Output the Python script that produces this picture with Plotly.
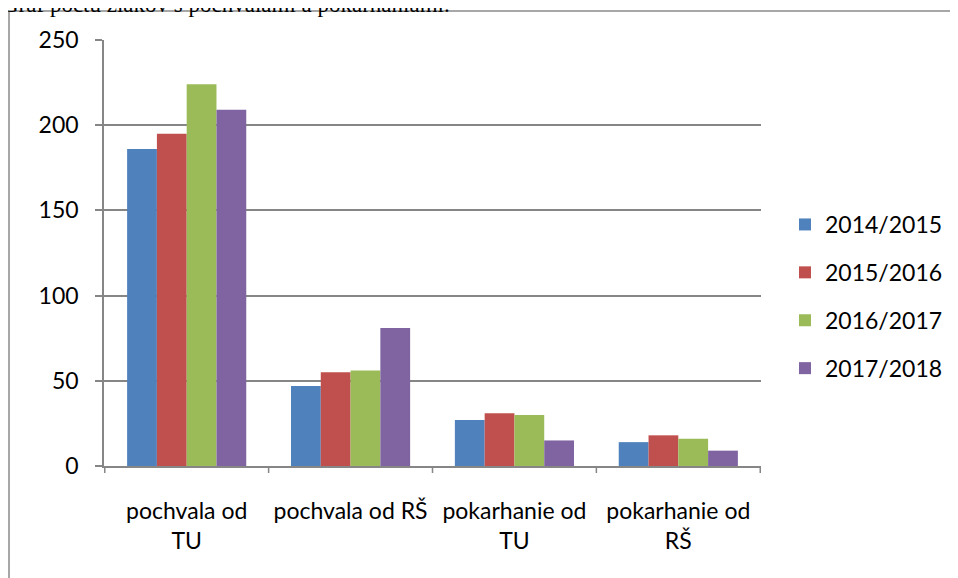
import plotly.graph_objects as go

categories = ["pochvala od<br>TU", "pochvala od RŠ", "pokarhanie od<br>TU", "pokarhanie od<br>RŠ"]
series_names = ["2014/2015", "2015/2016", "2016/2017", "2017/2018"]
v_2014 = [186, 47, 27, 14]
v_2015 = [195, 55, 31, 18]
v_2016 = [224, 56, 30, 16]
v_2017 = [209, 81, 15, 9]
colors = ["#4F81BD", "#C0504D", "#9BBB59", "#8064A2"]
y_ticks = [0, 50, 100, 150, 200, 250]
title_text = "Graf počtu žiakov s pochvalami a pokarhaniami."

values = [v_2014, v_2015, v_2016, v_2017]
FONT = "Lato, Carlito, Calibri, sans-serif"

fig = go.Figure()
for name, vals, col in zip(series_names, values, colors):
    fig.add_trace(go.Bar(
        x=categories, y=vals, name=name, legendgroup=name,
        marker=dict(color=col, line=dict(width=0)),
    ))

OFF = 8  # page body offset
W, H = 958, 578
# target screen positions of plot area
SL, SR, ST, SB = 104, 761, 40, 466
L, T = SL - OFF, ST - OFF
R = W - (SR - OFF)
B = H - (SB - OFF)
pw, ph = W - L - R, H - T - B

def px_x(p):
    return (p - OFF - L) / pw

def px_y(p):
    return (H - B - (p - OFF)) / ph

fig.update_layout(
    width=W, height=H,
    margin=dict(l=L, r=R, t=T, b=B, pad=0),
    paper_bgcolor="white", plot_bgcolor="white",
    barmode="group", bargap=0.273, bargroupgap=0,
    font=dict(family=FONT, size=23, color="#000000"),
    showlegend=True,
    legend=dict(
        x=px_x(785), y=px_y(203), xanchor="left", yanchor="top",
        traceorder="grouped", tracegroupgap=15,
        font=dict(family=FONT, size=23, color="#000000"),
        itemwidth=30, bgcolor="rgba(0,0,0,0)",
    ),
    xaxis=dict(
        showline=True, linecolor="#868686", linewidth=1.5,
        ticks="outside", ticklen=0, showgrid=False,
        tickfont=dict(family=FONT, size=23),
        fixedrange=True,
    ),
    yaxis=dict(
        range=[0, 250], tickvals=y_ticks,
        showgrid=True, gridcolor="#868686", gridwidth=1.5,
        showline=True, linecolor="#868686", linewidth=1.5,
        ticks="outside", ticklen=7, tickcolor="#868686", tickwidth=1.5,
        tickfont=dict(family=FONT, size=23),
        ticklabelstandoff=12, zeroline=False,
    ),
    shapes=[
        dict(type="rect", xref="paper", yref="paper",
             x0=px_x(9), x1=px_x(1100), y0=px_y(700), y1=px_y(11),
             line=dict(color="#8a8a8a", width=1.5), fillcolor="rgba(0,0,0,0)", layer="below"),
    ] + [
        dict(type="line", xref="x", yref="paper",
             x0=i - 0.5, x1=i - 0.5, y0=0, y1=px_y(SB + 7),
             line=dict(color="#868686", width=1.5))
        for i in range(len(categories) + 1)
    ],
    annotations=[
        dict(text=title_text, xref="paper", yref="paper",
             x=px_x(0), y=px_y(6), xanchor="left", yanchor="bottom",
             yshift=-13, showarrow=False,
             font=dict(family="Liberation Serif, Times New Roman, serif", size=23, color="#000000")),
    ],
)
fig.update_xaxes(ticklabelstandoff=24)

fig.write_html("out.html")
